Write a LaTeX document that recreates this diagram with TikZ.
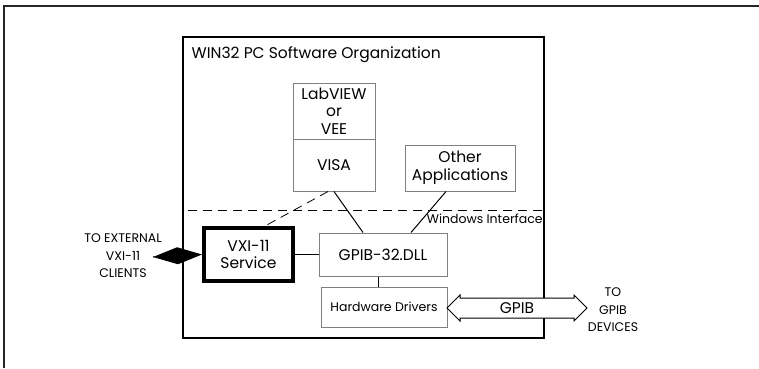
\documentclass[tikz,border=0pt]{standalone}
\usepackage{fontspec}
\setmainfont{Poppins}
\usetikzlibrary{arrows.meta, shapes.arrows, calc}

\definecolor{boxgray}{RGB}{128,128,128}
\tikzset{
  soft/.style={draw=boxgray, line width=1pt, inner sep=0pt, align=center, font=\fontsize{15.5}{17.5}\selectfont},
  hard/.style={draw=black, line width=4pt, inner sep=0pt, align=center, font=\fontsize{15.5}{17.5}\selectfont},
  note/.style={align=center, font=\fontsize{12.5}{17.5}\selectfont}
}

\begin{document}
\begin{tikzpicture}[x=1pt, y=-1pt, thick]
\useasboundingbox (0,0) rectangle (759,368);
% frames
\draw[line width=2pt, black!85] (4,368) -- (4,6) -- (759,6);
\draw[line width=2.5pt] (183,37) rectangle (544,338);
\node[anchor=west, font=\fontsize{15.5}{17}\selectfont] at (188,55) (title) {WIN32 PC Software Organization};
% boxes
\node[soft, minimum width=82pt, minimum height=56pt] at (334,111) (lab) {LabVIEW\\or\\VEE};
\node[soft, minimum width=82pt, minimum height=52pt] at (334,165) (visa) {VISA};
\node[soft, minimum width=110pt, minimum height=46pt] at (460,168) (other) {Other\\Applications};
\node[hard, minimum width=89pt, minimum height=53pt] at (248.5,254.5) (vxi) {VXI-11\\Service};
\node[soft, minimum width=128pt, minimum height=43pt] at (383,254.5) (dll) {GPIB-32.DLL};
\node[soft, minimum width=126pt, minimum height=40pt, font=\fontsize{12.5}{15}\selectfont] at (384,307) (hw) {Hardware Drivers};
% interface line
\coordinate (ifl) at (188,210);
\coordinate (ifr) at (544,210);
\draw[dashed, dash pattern=on 9pt off 6pt, line width=0.8pt] (ifl) -- (ifr);
\node[anchor=east, inner sep=0pt, font=\fontsize{12.5}{14}\selectfont] at (543,219) (winif) {Windows Interface};
% connectors
\draw[dashed, dash pattern=on 9pt off 6pt, line width=0.8pt] ([xshift=-6pt]visa.south) -- ([xshift=16.5pt]vxi.north);
\draw[line width=1pt] (visa.south) -- ([xshift=-20pt]dll.north);
\draw[line width=1pt] ([xshift=-14pt]other.south) -- ([xshift=28pt]dll.north);
\draw[line width=1pt] (vxi.east) -- (dll.west);
\draw[line width=1pt] ([xshift=-5pt]dll.south) -- ([xshift=-6pt]hw.north);
% outside links
\node[note] at (123,256) (clients) {TO EXTERNAL\\VXI-11\\CLIENTS};
\coordinate (ext) at (153,257);
\draw[line width=1pt, -{Kite[length=49pt, width=17pt, inset=24.5pt]}] (ext) -- (vxi.west);
\node[draw, fill=white, line width=1pt, shape=double arrow, double arrow head extend=3pt,
      inner xsep=0pt, inner ysep=4.5pt, text height=10pt, text depth=0pt,
      minimum height=140pt, font=\fontsize{15.5}{17}\selectfont] at (517,308) (gpib) {GPIB};
\node[note] at (613,310) (devices) {TO\\GPIB\\DEVICES};
\end{tikzpicture}
\end{document}
